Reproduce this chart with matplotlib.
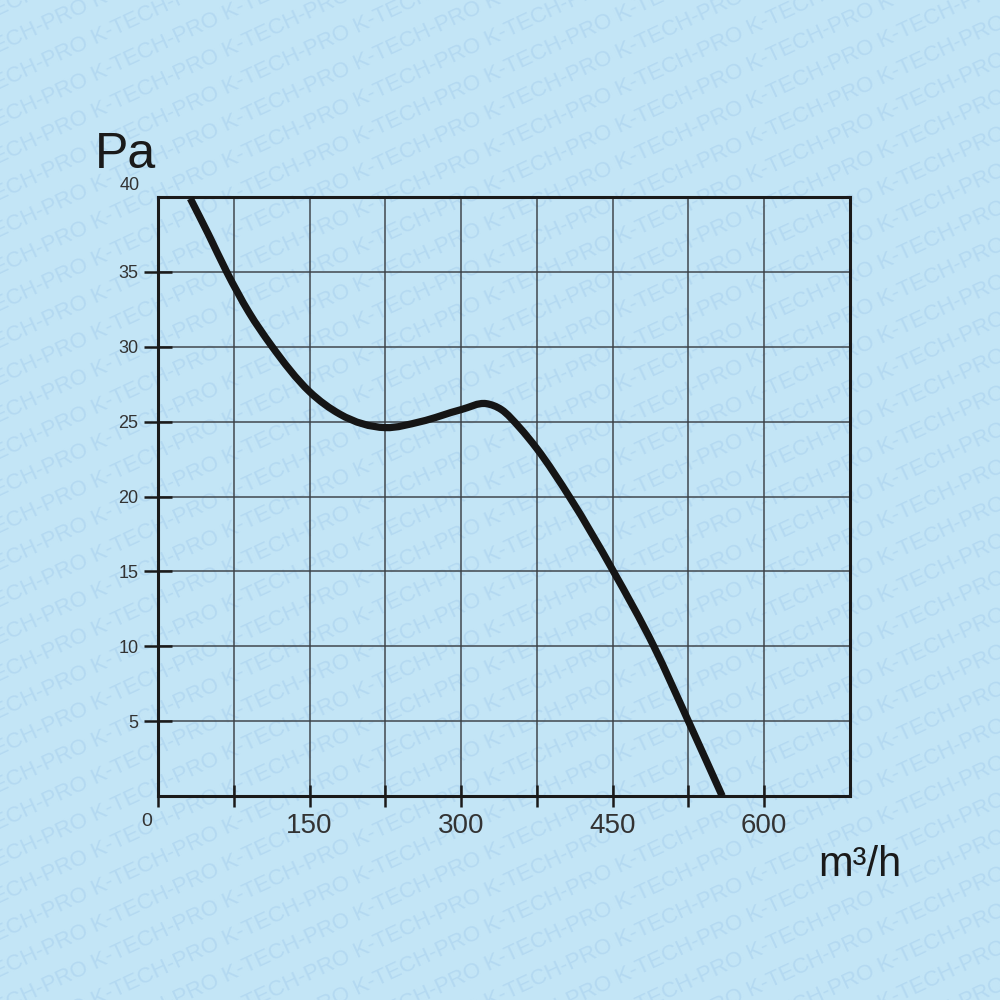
import numpy as np
import matplotlib.pyplot as plt
from matplotlib.path import Path
from matplotlib.patches import PathPatch

# ------------------------------------------------------------
# data (airflow m3/h vs pressure Pa)
# ------------------------------------------------------------
flow = [32, 50, 68, 90, 112, 150, 180, 225, 260, 300, 325, 340,
        358, 375, 408, 450, 490.8, 525, 558.5]
pressure = [39.9, 37.5, 35.0, 32.3, 30.1, 27.0, 25.5, 24.6, 25.0, 25.8, 26.2, 25.8,
            24.6, 23.2, 19.9, 15.1, 10.0, 5.0, 0.0]

x_ticks = [0, 75, 150, 225, 300, 375, 450, 525, 600]
x_labels = ["", "", "150", "", "300", "", "450", "", "600"]
y_ticks = [5, 10, 15, 20, 25, 30, 35]
y_labels = ["5", "10", "15", "20", "25", "30", "35"]

BG = "#c3e5f6"
WM = "#b4d9f1"
GRID = "#3a3f44"

plt.rcParams['font.family'] = ['Liberation Sans', 'DejaVu Sans']


def smooth_path(xs, ys):
    # hermite curve through the read points (3-point slopes), as bezier segments
    x = np.asarray(xs, float)
    y = np.asarray(ys, float)
    h = np.diff(x)
    d = np.diff(y) / h
    m = np.empty_like(x)
    m[0] = d[0]
    m[-1] = d[-1]
    m[1:-1] = (h[:-1] * d[1:] + h[1:] * d[:-1]) / (h[:-1] + h[1:])
    verts = [(x[0], y[0])]
    codes = [Path.MOVETO]
    for i in range(len(x) - 1):
        verts += [(x[i] + h[i] / 3, y[i] + m[i] * h[i] / 3),
                  (x[i + 1] - h[i] / 3, y[i + 1] - m[i + 1] * h[i] / 3),
                  (x[i + 1], y[i + 1])]
        codes += [Path.CURVE4] * 3
    return Path(verts, codes)


fig = plt.figure(figsize=(10, 10), dpi=100, facecolor=BG)

# watermark in a background axes, clipped to the figure
bg = fig.add_axes([0, 0, 1, 1], zorder=-5)
bg.set_axis_off()
bg.set_xlim(0, 1)
bg.set_ylim(0, 1)
wm_row = "K-TECH-PRO " * 12
for i in range(-18, 30):
    bg.text(-0.3, i * 0.037, wm_row, rotation=25, fontsize=16, color=WM,
            ha="left", va="center", rotation_mode="anchor", clip_on=True)

ax = fig.add_axes([0.158, 0.204, 0.692, 0.599], zorder=2)
ax.set_facecolor("none")

ax.add_patch(PathPatch(smooth_path(flow, pressure), facecolor="none",
                       edgecolor="#151515", lw=5.2, capstyle="butt",
                       joinstyle="round", zorder=3))

ax.set_xlim(0, 685)
ax.set_ylim(0, 40)

ax.set_xticks(x_ticks)
ax.set_xticklabels(x_labels, fontsize=20, color="#333333")
ax.set_yticks(y_ticks)
ax.set_yticklabels(y_labels, fontsize=13, color="#333333")

ax.tick_params(axis="x", direction="inout", length=16, width=1.8, pad=4, color="#1a1a1a")
ax.tick_params(axis="y", direction="inout", length=20, width=1.8, pad=4, color="#1a1a1a")

ax.grid(True, color=GRID, lw=1.3, alpha=0.8)
for s in ax.spines.values():
    s.set_linewidth(2.2)
    s.set_color("#1a1a1a")

fig.text(0.147, 0.178, "0", fontsize=14, color="#333333", ha="center", va="center")
fig.text(0.095, 0.845, "Pa", fontsize=36, color="#1a1a1a", ha="left", va="center")
fig.text(0.140, 0.814, "40", fontsize=13, color="#333333", ha="right", va="center")
fig.text(0.818, 0.135, "m\u00b3/h", fontsize=30, color="#1a1a1a", ha="left", va="center")

fig.savefig("out.png", dpi=100, facecolor=BG)
